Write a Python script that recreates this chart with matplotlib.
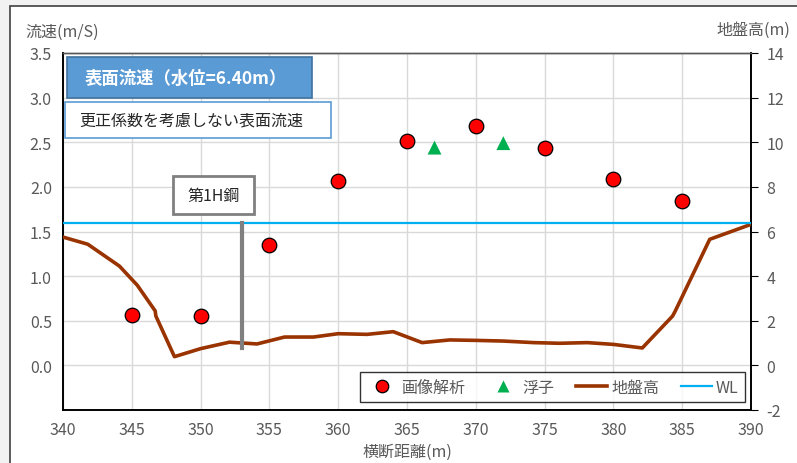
import numpy as np
import matplotlib.pyplot as plt
from matplotlib.patches import Rectangle
from matplotlib.lines import Line2D

plt.rcParams['font.family'] = ['Noto Sans CJK JP', 'DejaVu Sans']
plt.rcParams['axes.unicode_minus'] = False

# 画像解析による表面流速 (m/s)
img_x = [345, 350, 355, 360, 365, 370, 375, 380, 385]
img_v = [0.56, 0.55, 1.35, 2.07, 2.51, 2.68, 2.44, 2.09, 1.84]

# 浮子観測 (m/s)
float_x = [367, 372]
float_v = [2.44, 2.49]

# 横断地盤高 (m)
ground_x = [340, 341.8, 344.1, 345.4, 346.7, 346.75, 348.1, 350.0, 352.1, 354.1,
            356.1, 358.2, 360.0, 362.1, 364.0, 366.1, 368.1, 370.0, 372.0, 374.2,
            376.1, 378.1, 380.0, 382.1, 384.3, 384.5, 387.0, 390.0]
ground_z = [5.75, 5.43, 4.45, 3.59, 2.44, 2.21, 0.39, 0.75, 1.04, 0.96,
            1.27, 1.27, 1.42, 1.39, 1.51, 1.02, 1.14, 1.12, 1.09, 1.02,
            0.99, 1.02, 0.94, 0.78, 2.21, 2.44, 5.65, 6.32]

wl = 6.40          # 水位 (m)
hsteel_x = 353     # 第1H鋼の位置
hsteel_bottom = 0.19

gray_txt = '#595959'

fig = plt.figure(figsize=(7.97, 4.64), dpi=100, facecolor='#f2f2f2')
# チャート枠
fig.patches.append(Rectangle((10 / 797, -0.01), 1, 1 - 7 / 464 + 0.01, transform=fig.transFigure,
                             facecolor='white', edgecolor='#404040', linewidth=1.2, zorder=-5))

ax = fig.add_axes([63 / 797, 1 - 411 / 464, 688 / 797, 357 / 464])
ax2 = ax.twinx()

ax.set_xlim(340, 390)
ax.set_ylim(-0.5, 3.5)
ax2.set_ylim(-2, 14)
ax.set_xticks(np.arange(340, 391, 5))
ax.set_yticks(np.arange(0, 3.51, 0.5))
ax.set_yticklabels([f'{v:.1f}' for v in np.arange(0, 3.51, 0.5)])
ax2.set_yticks(np.arange(-2, 15, 2))

ax.grid(True, color='#d9d9d9', linewidth=1)
ax.set_axisbelow(True)
ax.tick_params(axis='both', length=0, labelsize=11.5, labelcolor=gray_txt, pad=8)
ax2.tick_params(axis='y', length=5, direction='out', labelsize=11.5, labelcolor=gray_txt, pad=6)

for a in (ax, ax2):
    for s in ('left', 'bottom', 'right'):
        a.spines[s].set_color('black')
        a.spines[s].set_linewidth(1.2)
    a.spines['top'].set_color('#595959')
    a.spines['top'].set_linewidth(1.0)

# 地盤高と水位
ax2.plot(ground_x, ground_z, color='#993300', linewidth=2.6, zorder=3)
ax2.axhline(wl, color='#00B0F0', linewidth=1.6, zorder=3)
ax2.plot([hsteel_x, hsteel_x], [hsteel_bottom * 4, wl], color='#808080', linewidth=3, zorder=3)

# 流速
ax2.scatter(np.array(img_x), np.array(img_v) * 4, s=110, color='#FF0000', edgecolor='black',
            linewidth=0.9, zorder=5)
ax2.scatter(np.array(float_x), np.array(float_v) * 4, s=100, marker='^', color='#00B050',
            edgecolor='none', zorder=5)

# タイトルボックス
ax2.add_patch(Rectangle((0.006, 0.874), 0.356, 0.115, transform=ax.transAxes,
                        facecolor='#5B9BD5', edgecolor='#41719C', linewidth=1.2, zorder=6))
ax2.text(0.178, 0.931, '表面流速（水位=6.40m）', transform=ax.transAxes, ha='center', va='center',
         color='white', fontsize=12.5, fontweight='bold', zorder=7)
ax2.add_patch(Rectangle((0.003, 0.762), 0.387, 0.101, transform=ax.transAxes,
                        facecolor='white', edgecolor='#5B9BD5', linewidth=1.2, zorder=6))
ax2.text(0.186, 0.812, '更正係数を考慮しない表面流速', transform=ax.transAxes, ha='center',
         va='center', color='#262626', fontsize=11.5, zorder=7)

# 第1H鋼ラベル
ax2.add_patch(Rectangle((0.160, 0.549), 0.118, 0.106, transform=ax.transAxes,
                        facecolor='white', edgecolor='#808080', linewidth=2, zorder=6))
ax2.text(0.219, 0.602, '第1H鋼', transform=ax.transAxes, ha='center', va='center',
         color='#262626', fontsize=11.5, zorder=7)

# 軸ラベル
fig.text(25 / 797, 1 - 32 / 464, '流速(m/S)', ha='left', va='center', color=gray_txt, fontsize=11.5)
fig.text(790 / 797, 1 - 30 / 464, '地盤高(m)', ha='right', va='center', color=gray_txt, fontsize=11.5)
fig.text(407 / 797, 1 - 452 / 464, '横断距離(m)', ha='center', va='center', color=gray_txt, fontsize=11.5)

handles = [
    Line2D([], [], linestyle='none', marker='o', markersize=9, markerfacecolor='#FF0000',
           markeredgecolor='black', markeredgewidth=0.9),
    Line2D([], [], linestyle='none', marker='^', markersize=9, markerfacecolor='#00B050',
           markeredgecolor='none'),
    Line2D([], [], color='#993300', linewidth=2.6),
    Line2D([], [], color='#00B0F0', linewidth=1.6),
]
leg = ax2.legend(handles, ['画像解析', '浮子', '地盤高', 'WL'], ncol=4, loc='lower right',
                 bbox_to_anchor=(0.991, 0.022), borderaxespad=0, frameon=True, fancybox=False,
                 fontsize=11.5, handlelength=1.95, columnspacing=1.35, handletextpad=0.25,
                 borderpad=0.4)
leg.get_frame().set_edgecolor('black')
leg.get_frame().set_linewidth(1.0)
for t in leg.get_texts():
    t.set_color(gray_txt)
leg.set_zorder(10)

fig.savefig('out.png', dpi=100, facecolor=fig.get_facecolor())
